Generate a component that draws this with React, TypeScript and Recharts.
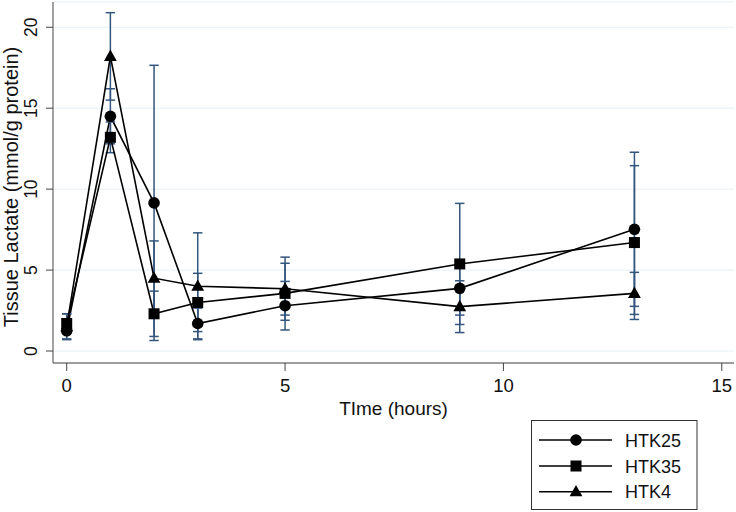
import React from 'react';
import { ComposedChart, Line, XAxis, YAxis, CartesianGrid, ErrorBar, Legend } from 'recharts';

const times = [0, 1, 2, 3, 5, 9, 13];
const xTicks = [0, 5, 10, 15];
const yTicks = [0, 5, 10, 15, 20];

const htk25 = [1.25, 14.5, 9.15, 1.7, 2.8, 3.87, 7.52];
const htk25ErrLow = [0.5, 1.7, 8.5, 0.95, 1.5, 1.65, 4.76];
const htk25ErrHigh = [0.5, 1.7, 8.5, 0.95, 1.5, 1.65, 4.76];

const htk35 = [1.7, 13.2, 2.3, 3.0, 3.56, 5.38, 6.7];
const htk35ErrLow = [0.6, 0.95, 1.4, 1.8, 1.34, 3.74, 4.75];
const htk35ErrHigh = [0.6, 0.95, 1.4, 1.8, 1.86, 3.74, 4.75];

const htk4 = [1.5, 18.2, 4.5, 4.0, 3.85, 2.74, 3.56];
const htk4ErrLow = [0.8, 2.7, 2.3, 3.3, 1.95, 1.6, 1.3];
const htk4ErrHigh = [0.8, 2.7, 2.3, 3.3, 1.95, 1.6, 1.3];

const seriesNames = ['HTK25', 'HTK35', 'HTK4'];
const seriesShapes = ['circle', 'square', 'triangle'];

const data = times.map((t, i) => ({
  t,
  HTK25: htk25[i],
  HTK25err: [htk25ErrLow[i], htk25ErrHigh[i]],
  HTK35: htk35[i],
  HTK35err: [htk35ErrLow[i], htk35ErrHigh[i]],
  HTK4: htk4[i],
  HTK4err: [htk4ErrLow[i], htk4ErrHigh[i]],
}));

const FONT = '"Liberation Sans", Arial, Helvetica, sans-serif';
const ERR_COLOR = '#34557c';
const TEXT = '#111111';

function Marker({ shape, cx, cy }: { shape: string; cx: number; cy: number }) {
  if (cx == null || cy == null) return null;
  if (shape === 'circle') return <circle cx={cx} cy={cy} r={5.8} fill="#000" />;
  if (shape === 'square')
    return <rect x={cx - 5.5} y={cy - 5.5} width={11} height={11} fill="#000" />;
  return (
    <polygon
      points={`${cx},${cy - 6.8} ${cx - 6.4},${cy + 4.6} ${cx + 6.4},${cy + 4.6}`}
      fill="#000"
    />
  );
}

const makeDot = (shape: string) => (props: any) => (
  <Marker key={`${shape}-${props.index}`} shape={shape} cx={props.cx} cy={props.cy} />
);

const YTick = (props: any) => {
  const { y, payload } = props;
  const bx = 37;
  return (
    <text
      x={bx}
      y={y}
      transform={`rotate(-90, ${bx}, ${y})`}
      textAnchor="middle"
      fontFamily={FONT}
      fontSize={17.5}
      style={{ fill: TEXT }}
    >
      {payload.value}
    </text>
  );
};

const XTick = (props: any) => {
  const { x, payload } = props;
  return (
    <text x={x} y={391.5} textAnchor="middle" fontFamily={FONT} fontSize={18.5} style={{ fill: TEXT }}>
      {payload.value}
    </text>
  );
};

const LegendBox = () => {
  const rows = [20, 46, 71.7];
  return (
    <svg width={167} height={91} style={{ display: 'block' }}>
      <rect x={0.5} y={0.5} width={165.5} height={89} fill="#fff" stroke="#333" strokeWidth={1} />
      {seriesNames.map((name, i) => (
        <g key={name}>
          <line x1={8} x2={81} y1={rows[i]} y2={rows[i]} stroke="#000" strokeWidth={1.6} />
          <Marker shape={seriesShapes[i]} cx={45} cy={rows[i]} />
          <text x={94} y={rows[i] + 6.5} fontFamily={FONT} fontSize={18} style={{ fill: TEXT }}>
            {name}
          </text>
        </g>
      ))}
    </svg>
  );
};

export default function App() {
  return (
    <div style={{ position: 'absolute', left: 0, top: 0, background: '#fff' }}>
      <ComposedChart
        width={736}
        height={512}
        data={data}
        margin={{ top: 2, right: 2, left: 0, bottom: 89 }}
      >
        <CartesianGrid vertical={false} stroke="#e6eff3" strokeWidth={1} />
        <XAxis
          dataKey="t"
          type="number"
          domain={[-0.314, 15.28]}
          ticks={xTicks}
          interval={0}
          height={60}
          tickSize={8}
          tick={<XTick />}
          stroke="#444"
          allowDataOverflow
          label={{
            content: () => (
              <text x={393.5} y={414.5} textAnchor="middle" fontFamily={FONT} fontSize={19} style={{ fill: TEXT }}>
                TIme (hours)
              </text>
            ),
          }}
        />
        <YAxis
          type="number"
          domain={[-0.74, 21.56]}
          ticks={yTicks}
          interval={0}
          width={53}
          tickSize={7}
          tick={<YTick />}
          stroke="#444"
          allowDataOverflow
          label={{
            content: () => (
              <text
                x={17.5}
                y={187}
                transform="rotate(-90, 17.5, 187)"
                textAnchor="middle"
                fontFamily={FONT}
                fontSize={20}
                style={{ fill: TEXT }}
              >
                Tissue Lactate (mmol/g protein)
              </text>
            ),
          }}
        />
        {seriesNames.map((name, i) => (
          <Line
            key={name}
            type="linear"
            dataKey={name}
            stroke="#000"
            strokeWidth={1.6}
            dot={makeDot(seriesShapes[i])}
            activeDot={false}
            isAnimationActive={false}
          >
            <ErrorBar
              dataKey={`${name}err`}
              direction="y"
              width={4.7}
              stroke={ERR_COLOR}
              strokeWidth={1.5}
            />
          </Line>
        ))}
        <Legend
          layout="vertical"
          align="center"
          verticalAlign="middle"
          content={() => <LegendBox />}
          wrapperStyle={{ position: 'absolute', left: 531, top: 420, width: 167, height: 91 }}
        />
      </ComposedChart>
    </div>
  );
}
